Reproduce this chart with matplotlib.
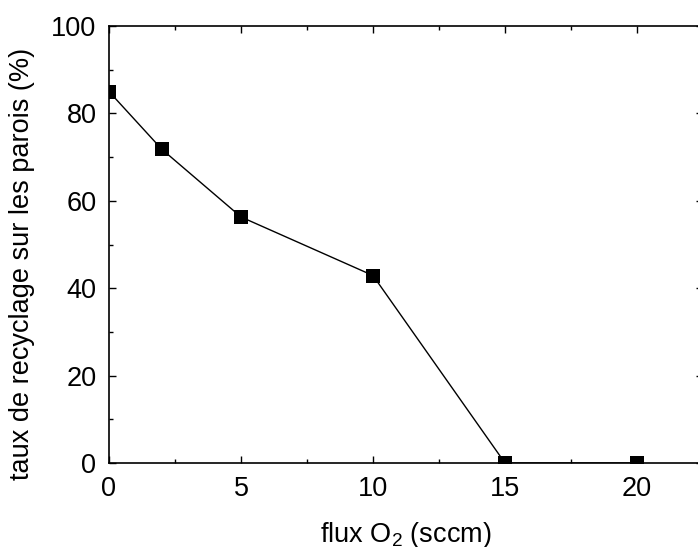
import matplotlib
matplotlib.use("Agg")
import matplotlib.pyplot as plt
from matplotlib.ticker import MultipleLocator

plt.rcParams['font.family'] = ['Liberation Sans', 'DejaVu Sans']
plt.rcParams['mathtext.fontset'] = 'custom'
plt.rcParams['mathtext.rm'] = 'Liberation Sans'

# flux O2 (sccm) vs taux de recyclage (%)
flux = [0, 2, 5, 10, 15, 20]
taux = [85.0, 71.8, 56.3, 42.9, 0.0, 0.0]

W, H = 698, 547
fig = plt.figure(figsize=(W / 100, H / 100), dpi=100)
ax = fig.add_axes([109 / W, (H - 463) / H, (703 - 109) / W, (463 - 26) / H])

ax.plot(flux, taux, color="black", lw=1.0)
ax.scatter(flux, taux, marker="s", s=88, color="black", linewidths=0,
           zorder=3, clip_on=True)

ax.set_xlim(0, 22.5)
ax.set_ylim(0, 100)
ax.xaxis.set_major_locator(MultipleLocator(5))
ax.xaxis.set_minor_locator(MultipleLocator(2.5))
ax.yaxis.set_major_locator(MultipleLocator(20))
ax.yaxis.set_minor_locator(MultipleLocator(10))

ax.tick_params(which="both", direction="in", top=True, right=True,
               labelsize=19.5, width=1.0, color="black")
ax.tick_params(which="major", length=5, pad=9)
ax.tick_params(which="minor", length=3)
for s in ax.spines.values():
    s.set_linewidth(1.2)
    s.set_zorder(4)

ax.set_xlabel("flux O$_\\mathrm{2}$ (sccm)", fontsize=19.5, labelpad=13)
ax.set_ylabel("taux de recyclage sur les parois (%)", fontsize=19.5)
ax.yaxis.set_label_coords(-0.125, 0.455)

fig.savefig("out.png", dpi=100)
